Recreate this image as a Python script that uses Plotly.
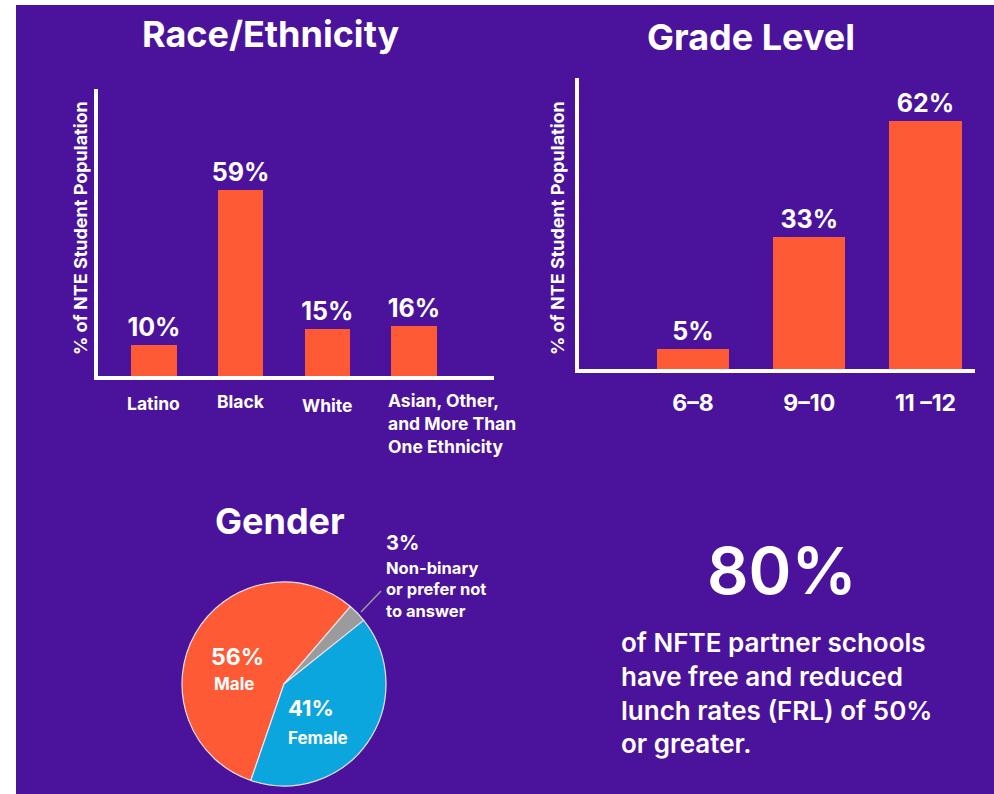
import plotly.graph_objects as go

W, H = 994, 794

# ---------------- data ----------------
race_categories = ["Latino", "Black", "White", "Asian, Other,<br>and More Than<br>One Ethnicity"]
race_values = [10, 59, 15, 16]

grade_categories = ["6–8", "9–10", "11 –12"]
grade_values = [5, 33, 62]

gender_labels = ["Male", "Non-binary<br>or prefer not<br>to answer", "Female"]
gender_values = [56, 3, 41]

frl_value = "80%"
frl_text = "of NFTE partner schools<br>have free and reduced<br>lunch rates (FRL) of 50%<br>or greater."

y_title = "% of NTE Student Population"

# ---------------- styles ----------------
PURPLE = "#4B139B"
ORANGE = "#FF5A36"
BLUE = "#0BA6DE"
GRAY = "#9B9B9B"
FONT = "Inter"

def px(x):
    return x / W

def py(y):
    return 1 - y / H

fig = go.Figure()

fig.add_trace(go.Bar(
    x=race_categories, y=race_values, xaxis="x", yaxis="y",
    marker=dict(color=ORANGE, line=dict(width=0)), width=0.52,
    texttemplate="%{y}%", textposition="outside", constraintext="none",
    textfont=dict(color="white", size=25, family=FONT, weight="bold"),
    cliponaxis=False, hoverinfo="skip",
))

fig.add_trace(go.Bar(
    x=grade_categories, y=grade_values, xaxis="x2", yaxis="y2",
    marker=dict(color=ORANGE, line=dict(width=0)), width=0.62,
    texttemplate="%{y}%", textposition="outside", constraintext="none",
    textfont=dict(color="white", size=25, family=FONT, weight="bold"),
    cliponaxis=False, hoverinfo="skip",
))

fig.add_trace(go.Pie(
    labels=gender_labels, values=gender_values, sort=False,
    direction="clockwise", rotation=199,
    marker=dict(colors=[ORANGE, GRAY, BLUE], line=dict(color="#E8E2F0", width=1.2)),
    textinfo="none", hoverinfo="skip", showlegend=False,
    domain=dict(x=[px(182), px(386)], y=[py(786), py(582)]),
))

axis_common = dict(
    showgrid=False, zeroline=False, showline=True, linecolor="white", linewidth=4,
    ticks="", fixedrange=True,
)

fig.update_layout(
    width=W, height=H,
    margin=dict(l=0, r=0, t=0, b=0),
    paper_bgcolor=PURPLE, plot_bgcolor="rgba(0,0,0,0)",
    showlegend=False, bargap=0,
    font=dict(family=FONT, color="white"),
    xaxis=dict(domain=[px(98), px(494)], range=[-0.646, 3.923], anchor="y",
               showticklabels=False, **axis_common),
    yaxis=dict(domain=[py(376), py(89)], range=[0, 91.1], anchor="x",
               showticklabels=False, **axis_common),
    xaxis2=dict(domain=[px(579), px(975)], range=[-0.98, 2.426], anchor="y2",
                showticklabels=True, tickfont=dict(size=23, color="white", family=FONT, weight="bold"),
                ticklabelstandoff=10, **axis_common),
    yaxis2=dict(domain=[py(369), py(78)], range=[0, 72.75], anchor="x2",
                showticklabels=False, **axis_common),
)

# white page margin at top and left (the purple panel is the paper background)
shapes = [
    dict(type="rect", xref="paper", yref="paper", x0=0, x1=px(16), y0=0, y1=1,
         fillcolor="white", line=dict(width=0), layer="below"),
    dict(type="rect", xref="paper", yref="paper", x0=0, x1=1, y0=py(5), y1=1,
         fillcolor="white", line=dict(width=0), layer="below"),
    dict(type="line", xref="paper", yref="paper", x0=px(361), y0=py(612), x1=px(381), y1=py(591),
         line=dict(color=GRAY, width=1.5)),
]
fig.update_layout(shapes=shapes)

ann = []

def label(text, x, y, size, weight="bold", xanchor="center", yanchor="middle", **kw):
    ann.append(dict(text=text, x=px(x), y=py(y), xref="paper", yref="paper",
                    showarrow=False, xanchor=xanchor, yanchor=yanchor, align="left",
                    font=dict(size=size, color="white", family=FONT, weight=weight), **kw))

label("Race/Ethnicity", 271, 34, 36)
label("Grade Level", 751, 37, 36)
label("Gender", 280, 521, 36)

# y axis titles
for x in (80, 557):
    label(y_title, x, 228, 18, textangle=-90)

# race tick labels
race_label_y = [403, 401, 405, 399]
for i, (cat, yy) in enumerate(zip(race_categories, race_label_y)):
    last = i == len(race_categories) - 1
    ann.append(dict(text=cat, x=cat, xref="x", y=py(yy), yref="paper",
                    showarrow=False, xanchor="left" if last else "center",
                    yanchor="middle" if not last else "top",
                    xshift=-28 if last else 0, yshift=11 if last else 0,
                    align="left",
                    font=dict(size=17.5, color="white", family=FONT, weight="bold")))

# pie labels
label(f"{gender_values[0]}%", 237, 657, 23)
label(gender_labels[0], 234, 684, 17)
label(f"{gender_values[2]}%", 311, 708, 22)
label(gender_labels[2], 318, 738, 17)
label(f"{gender_values[1]}%", 384, 543, 20, xanchor="left")
label(gender_labels[1], 384, 556, 16.5, xanchor="left", yanchor="top")

# FRL stat
label(frl_value, 782, 570, 65, weight=600)
label(frl_text, 619, 625, 26, weight=600, xanchor="left", yanchor="top")

fig.update_layout(annotations=ann)

fig.write_html(
    "out.html",
    config={"displayModeBar": False, "staticPlot": True},
    post_script="document.body.style.margin='0';document.body.style.padding='0';"
                "document.body.style.background='" + PURPLE + "';"
                "document.documentElement.style.overflow='hidden';",
)
